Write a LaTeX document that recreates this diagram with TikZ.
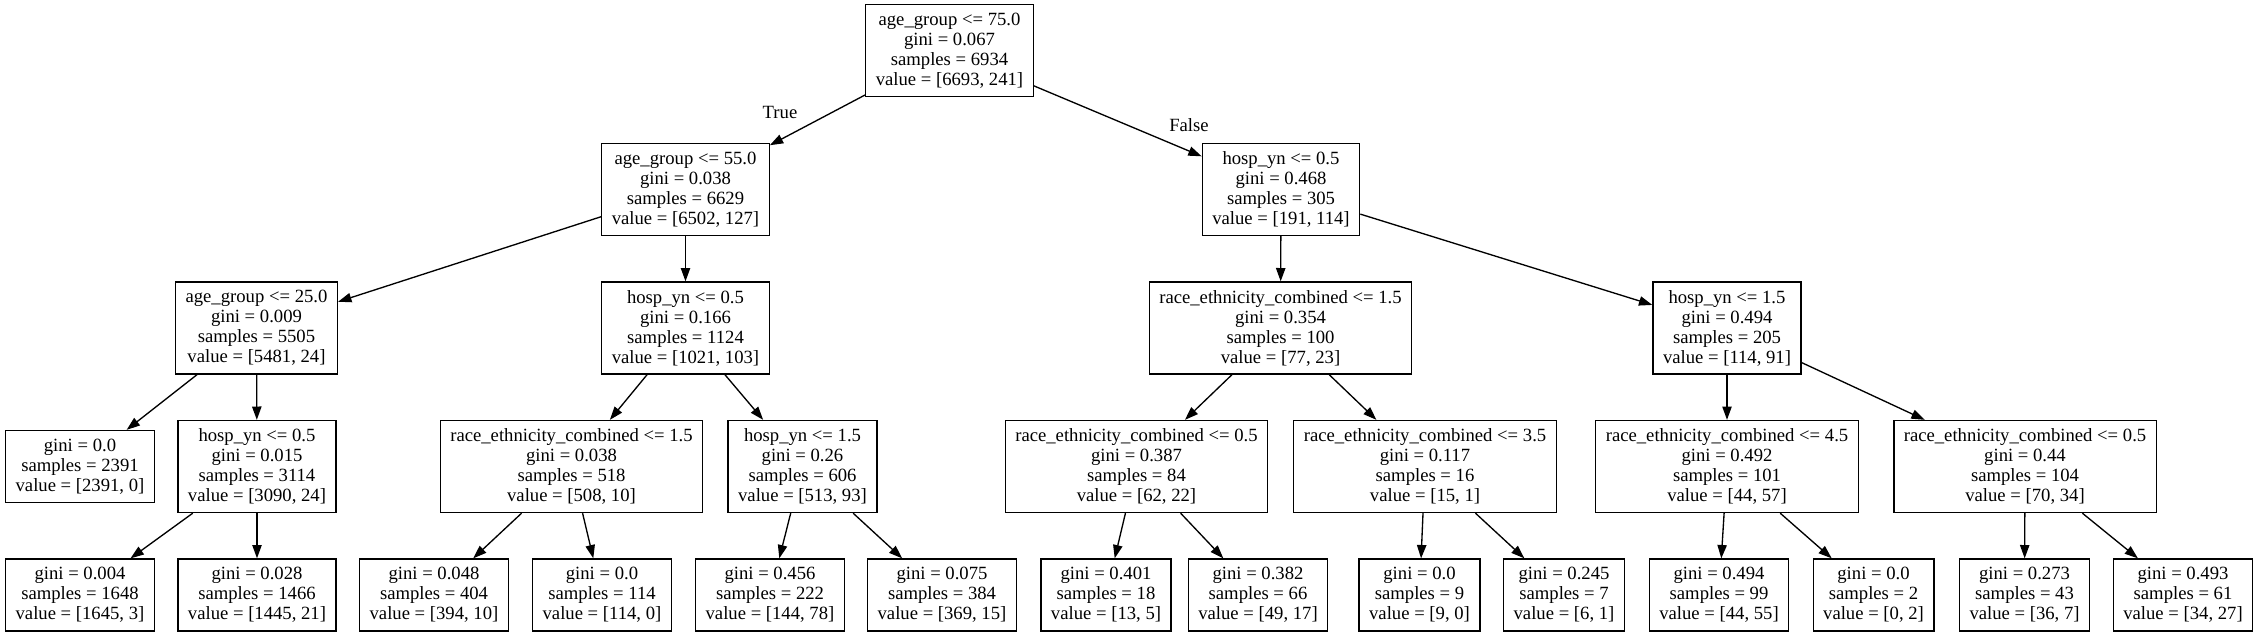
\documentclass[tikz,border=0pt]{standalone}
\usepackage{fontspec}
\setmainfont{Liberation Serif}
\usetikzlibrary{arrows.meta}

\begin{document}
\begin{tikzpicture}[x=0.75pt, y=-0.75pt, >={Triangle[length=10pt, width=7pt]},
        every node/.style={font=\fontsize{14pt}{15pt}\selectfont},
        split/.style={rectangle, draw, line width=1pt, align=center, inner xsep=7.5pt, inner ysep=0pt, minimum height=69pt},
        leaf/.style={split, minimum height=54pt},
        edge/.style={->, line width=1pt}]
        \useasboundingbox (0,0) rectangle (2258,636);

        % rank 0 and 1
        \node [split] (age75) at (949.5,50.5) {age\_group <= 75.0\\gini = 0.067\\samples = 6934\\value = [6693, 241]};
        \node [split] (age55) at (685.5,189.5) {age\_group <= 55.0\\gini = 0.038\\samples = 6629\\value = [6502, 127]};
        \node [split] (hosp05r) at (1281,189.5) {hosp\_yn <= 0.5\\gini = 0.468\\samples = 305\\value = [191, 114]};

        % rank 2
        \node [split] (age25) at (256.5,328) {age\_group <= 25.0\\gini = 0.009\\samples = 5505\\value = [5481, 24]};
        \node [split] (hosp05m) at (685.5,328) {hosp\_yn <= 0.5\\gini = 0.166\\samples = 1124\\value = [1021, 103]};
        \node [split] (race15r) at (1280.5,328) {race\_ethnicity\_combined <= 1.5\\gini = 0.354\\samples = 100\\value = [77, 23]};
        \node [split] (hosp15r) at (1727,328) {hosp\_yn <= 1.5\\gini = 0.494\\samples = 205\\value = [114, 91]};

        % rank 3
        \node [leaf] (s2391) at (80,466.5) {gini = 0.0\\samples = 2391\\value = [2391, 0]};
        \node [split] (hosp05l) at (257,466.5) {hosp\_yn <= 0.5\\gini = 0.015\\samples = 3114\\value = [3090, 24]};
        \node [split] (race15m) at (571.5,466.5) {race\_ethnicity\_combined <= 1.5\\gini = 0.038\\samples = 518\\value = [508, 10]};
        \node [split] (hosp15m) at (802.5,466.5) {hosp\_yn <= 1.5\\gini = 0.26\\samples = 606\\value = [513, 93]};
        \node [split] (race05a) at (1136.5,466.5) {race\_ethnicity\_combined <= 0.5\\gini = 0.387\\samples = 84\\value = [62, 22]};
        \node [split] (race35) at (1425,466.5) {race\_ethnicity\_combined <= 3.5\\gini = 0.117\\samples = 16\\value = [15, 1]};
        \node [split] (race45) at (1727,466.5) {race\_ethnicity\_combined <= 4.5\\gini = 0.492\\samples = 101\\value = [44, 57]};
        \node [split] (race05b) at (2025,466.5) {race\_ethnicity\_combined <= 0.5\\gini = 0.44\\samples = 104\\value = [70, 34]};

        % rank 4
        \node [leaf] (s1648) at (80,595) {gini = 0.004\\samples = 1648\\value = [1645, 3]};
        \node [leaf] (s1466) at (257,595) {gini = 0.028\\samples = 1466\\value = [1445, 21]};
        \node [leaf] (s404) at (434,595) {gini = 0.048\\samples = 404\\value = [394, 10]};
        \node [leaf] (s114) at (602,595) {gini = 0.0\\samples = 114\\value = [114, 0]};
        \node [leaf] (s222) at (770,595) {gini = 0.456\\samples = 222\\value = [144, 78]};
        \node [leaf] (s384) at (942,595) {gini = 0.075\\samples = 384\\value = [369, 15]};
        \node [leaf] (s18) at (1106,595) {gini = 0.401\\samples = 18\\value = [13, 5]};
        \node [leaf] (s66) at (1258,595) {gini = 0.382\\samples = 66\\value = [49, 17]};
        \node [leaf] (s9) at (1419.5,595) {gini = 0.0\\samples = 9\\value = [9, 0]};
        \node [leaf] (s7) at (1564,595) {gini = 0.245\\samples = 7\\value = [6, 1]};
        \node [leaf] (s99) at (1719,595) {gini = 0.494\\samples = 99\\value = [44, 55]};
        \node [leaf] (s2) at (1873.5,595) {gini = 0.0\\samples = 2\\value = [0, 2]};
        \node [leaf] (s43) at (2024.5,595) {gini = 0.273\\samples = 43\\value = [36, 7]};
        \node [leaf] (s61) at (2183,595) {gini = 0.493\\samples = 61\\value = [34, 27]};

        \node (truelbl) at (780,112) {True};
        \node (falselbl) at (1189,125) {False};

        \draw [edge] (age75) -- (age55);
        \draw [edge] (age75) -- (hosp05r);
        \draw [edge] (age55) -- (age25);
        \draw [edge] (age55) -- (hosp05m);
        \draw [edge] (age25) -- (s2391);
        \draw [edge] (age25) -- (hosp05l);
        \draw [edge] (hosp05l) -- (s1648);
        \draw [edge] (hosp05l) -- (s1466);
        \draw [edge] (hosp05m) -- (race15m);
        \draw [edge] (hosp05m) -- (hosp15m);
        \draw [edge] (race15m) -- (s404);
        \draw [edge] (race15m) -- (s114);
        \draw [edge] (hosp15m) -- (s222);
        \draw [edge] (hosp15m) -- (s384);
        \draw [edge] (hosp05r) -- (race15r);
        \draw [edge] (hosp05r) -- (hosp15r);
        \draw [edge] (race15r) -- (race05a);
        \draw [edge] (race15r) -- (race35);
        \draw [edge] (race05a) -- (s18);
        \draw [edge] (race05a) -- (s66);
        \draw [edge] (race35) -- (s9);
        \draw [edge] (race35) -- (s7);
        \draw [edge] (hosp15r) -- (race45);
        \draw [edge] (hosp15r) -- (race05b);
        \draw [edge] (race45) -- (s99);
        \draw [edge] (race45) -- (s2);
        \draw [edge] (race05b) -- (s43);
        \draw [edge] (race05b) -- (s61);
    \end{tikzpicture}
\end{document}
